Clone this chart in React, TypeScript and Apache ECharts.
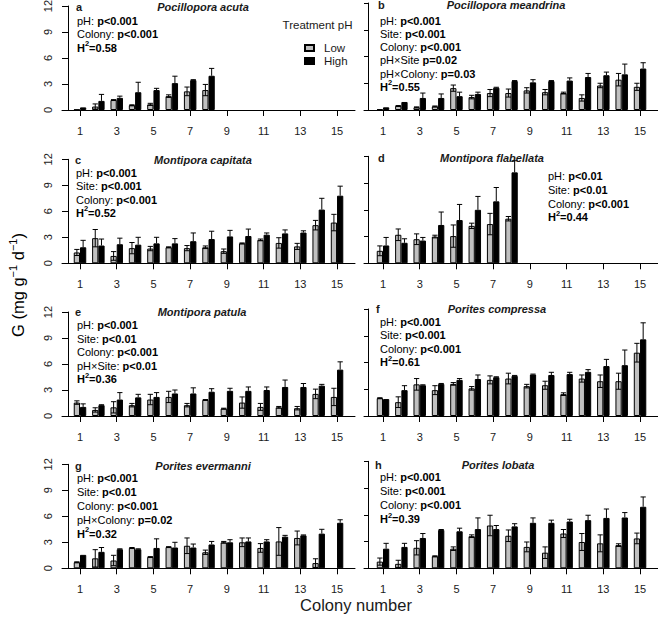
import React, { useEffect, useRef } from "react";
import * as echarts from "echarts";

// ---------- data ----------
const colonies = [1, 2, 3, 4, 5, 6, 7, 8, 9, 10, 11, 12, 13, 14, 15];
const xTickValues = [1, 3, 5, 7, 9, 11, 13, 15];
const yMin = 0;
const yMax = 12;
const yInterval = 3;
const seriesNames = ["Low", "High"];

// a  Pocillopora acuta
const lowA = [0.05, 0.4, 1.15, 0.55, 0.65, 1.6, 2.15, 2.3];
const lowSeA = [0, 0.3, 0.05, 0.05, 0.12, 0.15, 0.5, 0.65];
const highA = [0.3, 1.05, 1.4, 2.05, 2.3, 3.1, 3.45, 3.95];
const highSeA = [0, 0.75, 0.2, 1.15, 0.2, 0.8, 0.05, 0.85];
// b  Pocillopora meandrina
const lowB = [0.08, 0.45, 0.3, 0.4, 2.45, 1.45, 1.9, 1.9, 2.2, 2.0, 1.9, 1.35, 2.75, 3.4, 2.6];
const lowSeB = [0, 0.05, 0.05, 0.05, 0.35, 0.2, 0.4, 0.45, 0.3, 0.3, 0.1, 0.35, 0.25, 0.7, 0.4];
const highB = [0.3, 0.9, 1.35, 1.35, 1.55, 1.8, 2.5, 3.25, 3.1, 3.25, 3.3, 3.7, 3.9, 4.0, 4.65];
const highSeB = [0, 0, 0.55, 0.45, 0.45, 0.2, 0.05, 0.05, 0.3, 0.05, 0.3, 0.4, 0.35, 1.15, 0.65];
// c  Montipora capitata
const lowC = [1.25, 2.9, 0.85, 1.75, 1.7, 1.85, 1.75, 1.85, 1.4, 2.3, 2.7, 2.35, 1.95, 4.4, 4.7];
const lowSeC = [0.35, 1.0, 0.5, 0.65, 0.25, 0.05, 0.3, 0.15, 0.25, 0.05, 0.1, 0.6, 0.35, 0.55, 0.95];
const highC = [1.85, 2.05, 2.2, 2.15, 2.3, 2.3, 2.55, 2.8, 3.1, 3.15, 3.3, 3.45, 3.55, 6.2, 7.8];
const highSeC = [0.8, 0.75, 0.7, 0.85, 0.7, 0.55, 0.95, 0.9, 0.7, 0.8, 0.2, 0.4, 0.2, 1.3, 1.1];
// d  Montipora flabellata
const lowD = [1.4, 3.2, 2.7, 3.0, 3.05, 4.2, 4.4, 5.0];
const lowSeD = [0.55, 0.65, 0.6, 0.15, 1.25, 0.3, 1.2, 0.25];
const highD = [2.0, 2.3, 2.55, 4.3, 4.85, 6.0, 6.95, 10.2];
const highSeD = [0.9, 0.45, 0.35, 1.45, 1.75, 1.5, 1.55, 1.3];
// e  Montipora patula
const lowE = [1.55, 0.7, 1.0, 1.25, 1.9, 2.2, 1.25, 1.85, 0.85, 1.55, 1.05, 1.0, 0.9, 2.55, 2.2];
const lowSeE = [0.2, 0.25, 0.65, 0.2, 0.6, 0.65, 0.2, 0.05, 0.05, 0.65, 0.4, 0.1, 0.2, 0.55, 1.0];
const highE = [1.05, 1.25, 1.9, 2.15, 2.2, 2.6, 2.6, 2.8, 2.9, 2.9, 3.0, 3.35, 3.35, 3.5, 5.35];
const highSeE = [0.35, 0.05, 0.8, 0.35, 0.5, 0.4, 0.65, 0.35, 0.3, 0.45, 0.35, 0.8, 0.4, 0.15, 0.9];
// f  Porites compressa
const lowF = [2.0, 1.55, 3.55, 2.9, 3.6, 3.1, 4.05, 4.2, 3.35, 3.45, 2.45, 4.2, 3.9, 3.9, 7.1];
const lowSeF = [0.05, 0.6, 0.65, 0.5, 0.15, 0.2, 0.45, 0.6, 0.2, 0.45, 0.15, 0.4, 0.7, 0.9, 1.05];
const highF = [1.9, 2.9, 3.45, 3.6, 4.05, 4.15, 4.35, 4.5, 4.65, 4.6, 4.7, 4.95, 5.6, 5.7, 8.6];
const highSeF = [0, 0.5, 0.05, 0.05, 0.15, 0.45, 0.05, 0.05, 0.05, 0.3, 0.2, 0.25, 0.75, 1.7, 1.85];
// g  Porites evermanni
const lowG = [0.7, 1.15, 0.9, 2.35, 1.3, 2.45, 2.6, 1.85, 3.0, 3.0, 2.35, 3.1, 3.5, 0.6, null];
const lowSeG = [0.05, 1.0, 0.6, 0.05, 0.05, 0.05, 0.9, 0.25, 0.1, 0.5, 0.5, 1.6, 0.8, 0.5, 0];
const highG = [1.55, 1.9, 2.2, 2.2, 2.35, 2.4, 2.4, 2.75, 3.0, 3.1, 3.1, 3.65, 3.8, 4.0, 5.25];
const highSeG = [0, 0.5, 0.05, 0.05, 1.05, 0.6, 0.4, 0.35, 0.3, 0.4, 0.2, 0.15, 0.05, 0.5, 0.35];
// h  Porites lobata
const lowH = [0.75, 0.5, 2.3, 1.35, 2.2, 3.6, 4.8, 3.65, 2.4, 1.75, 3.9, 2.95, 2.8, 2.6, 3.35];
const lowSeH = [0.4, 0.4, 0.8, 0.05, 0.2, 0.15, 1.15, 0.65, 0.55, 0.65, 0.45, 0.95, 0.95, 0.15, 0.6];
const highH = [2.2, 2.4, 3.4, 4.3, 4.15, 4.4, 4.4, 4.7, 5.1, 5.1, 5.25, 5.4, 5.65, 5.7, 6.9];
const highSeH = [0.6, 0.4, 0.5, 0.05, 0.35, 1.25, 0.4, 0.3, 0.55, 0.3, 0.25, 0.55, 1.0, 0.55, 1.1];

// statistics text
const statsA = [["pH: ", "p<0.001"], ["Colony: ", "p<0.001"]];
const statsB = [["pH: ", "p<0.001"], ["Site: ", "p<0.001"], ["Colony: ", "p<0.001"], ["pH×Site ", "p=0.02"], ["pH×Colony: ", "p=0.03"]];
const statsC = [["pH: ", "p<0.001"], ["Site: ", "p<0.001"], ["Colony: ", "p<0.001"]];
const statsD = [["pH: ", "p<0.01"], ["Site: ", "p<0.01"], ["Colony: ", "p<0.001"]];
const statsE = [["pH: ", "p<0.001"], ["Site: ", "p<0.01"], ["Colony: ", "p<0.001"], ["pH×Site: ", "p<0.01"]];
const statsF = [["pH: ", "p<0.001"], ["Site: ", "p<0.001"], ["Colony: ", "p<0.001"]];
const statsG = [["pH: ", "p<0.001"], ["Site: ", "p<0.01"], ["Colony: ", "p<0.001"], ["pH×Colony: ", "p=0.02"]];
const statsH = [["pH: ", "p<0.001"], ["Site: ", "p<0.001"], ["Colony: ", "p<0.001"]];
const heritability = ["0.58", "0.55", "0.52", "0.44", "0.36", "0.61", "0.32", "0.39"];
const letters = ["a", "b", "c", "d", "e", "f", "g", "h"];
const species = [
  "Pocillopora acuta",
  "Pocillopora meandrina",
  "Montipora capitata",
  "Montipora flabellata",
  "Montipora patula",
  "Porites compressa",
  "Porites evermanni",
  "Porites lobata",
];

// ---------- layout / style ----------
const FONT = "'Liberation Sans', Arial, Helvetica, sans-serif";
const TXT = "#1a1a1a";
const BAR_FRAC = 0.34;
const PX_PER_COLONY = 18.36;
const ZERO_Y = [110, 263.3, 416, 568.3];
const COLS = [
  { left: 62, width: 293, height: 104, axisOffset: -6, tickLen: 6, firstX: 80 },
  { left: 364, width: 294, height: 107, axisOffset: -4, tickLen: 4, firstX: 383 },
];

const panels = [
  { low: lowA, lowSe: lowSeA, high: highA, highSe: highSeA, stats: statsA, col: 0, row: 0, titleX: 203, letterX: 76, letterDy: -103.5, statsX: 77, statsDy: -89.3, gap: 13.6 },
  { low: lowB, lowSe: lowSeB, high: highB, highSe: highSeB, stats: statsB, col: 1, row: 0, titleX: 506, letterX: 378, letterDy: -105, statsX: 380, statsDy: -89.3, gap: 13.2 },
  { low: lowC, lowSe: lowSeC, high: highC, highSe: highSeC, stats: statsC, col: 0, row: 1, titleX: 203, letterX: 75, letterDy: -103.5, statsX: 76, statsDy: -90.6, gap: 13.4 },
  { low: lowD, lowSe: lowSeD, high: highD, highSe: highSeD, stats: statsD, col: 1, row: 1, titleX: 492, letterX: 378, letterDy: -105, statsX: 548, statsDy: -87, gap: 13.6 },
  { low: lowE, lowSe: lowSeE, high: highE, highSe: highSeE, stats: statsE, col: 0, row: 2, titleX: 202, letterX: 75, letterDy: -104, statsX: 77, statsDy: -91, gap: 13.5 },
  { low: lowF, lowSe: lowSeF, high: highF, highSe: highSeF, stats: statsF, col: 1, row: 2, titleX: 497, letterX: 376, letterDy: -107, statsX: 380, statsDy: -94.3, gap: 13.5 },
  { low: lowG, lowSe: lowSeG, high: highG, highSe: highSeG, stats: statsG, col: 0, row: 3, titleX: 203, letterX: 75, letterDy: -102.5, statsX: 77, statsDy: -90, gap: 13.9 },
  { low: lowH, lowSe: lowSeH, high: highH, highSe: highSeH, stats: statsH, col: 1, row: 3, titleX: 498, letterX: 375, letterDy: -103.5, statsX: 380, statsDy: -91, gap: 14 },
];

function pairs(vals: (number | null)[]) {
  const out: number[][] = [];
  vals.forEach((v, i) => {
    if (v != null) out.push([colonies[i], v]);
  });
  return out;
}

function errData(low: (number | null)[], lowSe: number[], high: (number | null)[], highSe: number[]) {
  const out: number[][] = [];
  low.forEach((v, i) => {
    if (v != null && lowSe[i] > 0) out.push([colonies[i], v, lowSe[i], -1]);
  });
  high.forEach((v, i) => {
    if (v != null && highSe[i] > 0) out.push([colonies[i], v, highSe[i], 1]);
  });
  return out;
}

const renderErr = (params: any, api: any) => {
  const x = api.value(0);
  const m = api.value(1);
  const se = api.value(2);
  const side = api.value(3);
  const band = api.size([1, 0])[0];
  const bw = band * BAR_FRAC;
  const c = api.coord([x, m]);
  const cx = c[0] + (side * bw) / 2;
  const top = api.coord([x, m + se])[1];
  const bot = side < 0 ? api.coord([x, Math.max(m - se, 0)])[1] : c[1];
  const cap = bw * 0.42;
  const st = { stroke: "#000", lineWidth: 1 };
  const children: any[] = [
    { type: "line", shape: { x1: cx, y1: top, x2: cx, y2: bot }, style: st },
    { type: "line", shape: { x1: cx - cap, y1: top, x2: cx + cap, y2: top }, style: st },
  ];
  if (side < 0) {
    children.push({ type: "line", shape: { x1: cx - cap, y1: bot, x2: cx + cap, y2: bot }, style: st });
  }
  return { type: "group", children };
};

function buildOption() {
  const grid: any[] = [];
  const xAxis: any[] = [];
  const yAxis: any[] = [];
  const series: any[] = [];
  const graphic: any[] = [];

  const baseRich = {
    n: { fontSize: 11, fontFamily: FONT, color: TXT },
    b: { fontSize: 11, fontFamily: FONT, color: TXT, fontWeight: "bold" },
    sup: { fontSize: 7.5, fontFamily: FONT, color: TXT, fontWeight: "bold", padding: [0, 0, 8, 0] },
  };

  panels.forEach((p, i) => {
    const cfg = COLS[p.col];
    const zero = ZERO_Y[p.row];
    const xMin = 1 - (cfg.firstX - cfg.left) / PX_PER_COLONY;
    const xMax = xMin + cfg.width / PX_PER_COLONY;
    grid.push({
      left: cfg.left,
      top: zero - cfg.height,
      width: cfg.width,
      height: cfg.height,
      containLabel: false,
      outerBoundsMode: "none",
    });
    xAxis.push({
      type: "value",
      gridIndex: i,
      min: xMin,
      max: xMax,
      axisLine: { show: true, onZero: false, lineStyle: { color: "#000", width: 1 } },
      axisTick: { show: true, customValues: xTickValues, length: 6, lineStyle: { color: "#000", width: 1 } },
      axisLabel: { show: true, customValues: xTickValues, margin: 15, fontSize: 11, color: TXT, fontFamily: FONT },
      splitLine: { show: false },
    });
    yAxis.push({
      type: "value",
      gridIndex: i,
      min: yMin,
      max: yMax,
      interval: yInterval,
      offset: cfg.axisOffset,
      axisLine: { show: true, lineStyle: { color: "#000", width: 1 } },
      axisTick: { show: true, length: cfg.tickLen, lineStyle: { color: "#000", width: 1 } },
      axisLabel: { show: p.col === 0, rotate: 90, margin: 15, fontSize: 11, color: TXT, fontFamily: FONT },
      splitLine: { show: false },
    });
    series.push({
      type: "bar",
      name: seriesNames[0],
      xAxisIndex: i,
      yAxisIndex: i,
      data: pairs(p.low),
      barWidth: BAR_FRAC * 100 + "%",
      barGap: "0%",
      itemStyle: { color: "#c0c0c0", borderColor: "#000", borderWidth: 1 },
    });
    series.push({
      type: "bar",
      name: seriesNames[1],
      xAxisIndex: i,
      yAxisIndex: i,
      data: pairs(p.high),
      barWidth: BAR_FRAC * 100 + "%",
      barGap: "0%",
      itemStyle: { color: "#000", borderColor: "#000", borderWidth: 1 },
    });
    series.push({
      type: "custom",
      name: "se" + i,
      xAxisIndex: i,
      yAxisIndex: i,
      dimensions: ["x", "y", "se", "side"],
      encode: { x: 0, y: 1 },
      data: errData(p.low, p.lowSe, p.high, p.highSe),
      renderItem: renderErr,
      z: 5,
      silent: true,
    });

    // panel letter & species
    graphic.push({
      type: "text",
      x: p.letterX,
      y: zero + p.letterDy,
      silent: true,
      style: { text: letters[i], fontSize: 11, fontWeight: "bold", fontFamily: FONT, fill: TXT, align: "left", verticalAlign: "middle" },
    });
    graphic.push({
      type: "text",
      x: p.titleX,
      y: zero + p.letterDy,
      silent: true,
      style: {
        text: species[i],
        fontSize: 11,
        fontWeight: "bold",
        fontStyle: "italic",
        fontFamily: FONT,
        fill: TXT,
        align: "center",
        verticalAlign: "middle",
      },
    });
    // stats lines
    p.stats.forEach((s, k) => {
      graphic.push({
        type: "text",
        x: p.statsX,
        y: zero + p.statsDy + k * p.gap,
        silent: true,
        style: {
          text: "{n|" + s[0] + "}{b|" + s[1] + "}",
          rich: baseRich,
          align: "left",
          verticalAlign: "middle",
        },
      });
    });
    graphic.push({
      type: "text",
      x: p.statsX,
      y: zero + p.statsDy + p.stats.length * p.gap,
      silent: true,
      style: {
        text: "{b|H}{sup|2}{b|=" + heritability[i] + "}",
        rich: baseRich,
        align: "left",
        verticalAlign: "middle",
      },
    });
  });

  // legend title
  graphic.push({
    type: "text",
    x: 317.5,
    y: 25,
    silent: true,
    style: { text: "Treatment pH", fontSize: 11.5, fontFamily: FONT, fill: TXT, align: "center", verticalAlign: "middle" },
  });
  // axis titles
  graphic.push({
    type: "text",
    x: 18,
    y: 285,
    rotation: Math.PI / 2,
    silent: true,
    style: {
      text: "{n|G (mg g}{s|−1}{n| d}{s|−1}{n|)}",
      rich: {
        n: { fontSize: 16.5, fontFamily: FONT, color: TXT },
        s: { fontSize: 11, fontFamily: FONT, color: TXT, padding: [0, 0, 11, 0] },
      },
      align: "center",
      verticalAlign: "middle",
    },
  });
  graphic.push({
    type: "text",
    x: 356,
    y: 605,
    silent: true,
    style: { text: "Colony number", fontSize: 16.5, fontFamily: FONT, fill: TXT, align: "center", verticalAlign: "middle" },
  });

  return {
    animation: false,
    backgroundColor: "#fff",
    textStyle: { fontFamily: FONT },
    legend: {
      data: seriesNames,
      orient: "vertical",
      left: 299,
      top: 37,
      icon: "rect",
      itemWidth: 9,
      itemHeight: 6,
      itemGap: 1,
      selectedMode: false,
      textStyle: { fontSize: 11.5, lineHeight: 12, color: TXT, fontFamily: FONT, padding: [0, 0, 0, 5] },
    },
    grid,
    xAxis,
    yAxis,
    series,
    graphic,
  };
}

export default function App() {
  const ref = useRef<HTMLDivElement>(null);
  useEffect(() => {
    if (!ref.current) return;
    const chart = echarts.init(ref.current, undefined, { renderer: "svg" });
    chart.setOption(buildOption() as any);
    return () => chart.dispose();
  }, []);
  return (
    <div
      ref={ref}
      style={{ position: "fixed", left: 0, top: 0, width: 658, height: 624, background: "#fff" }}
    />
  );
}
